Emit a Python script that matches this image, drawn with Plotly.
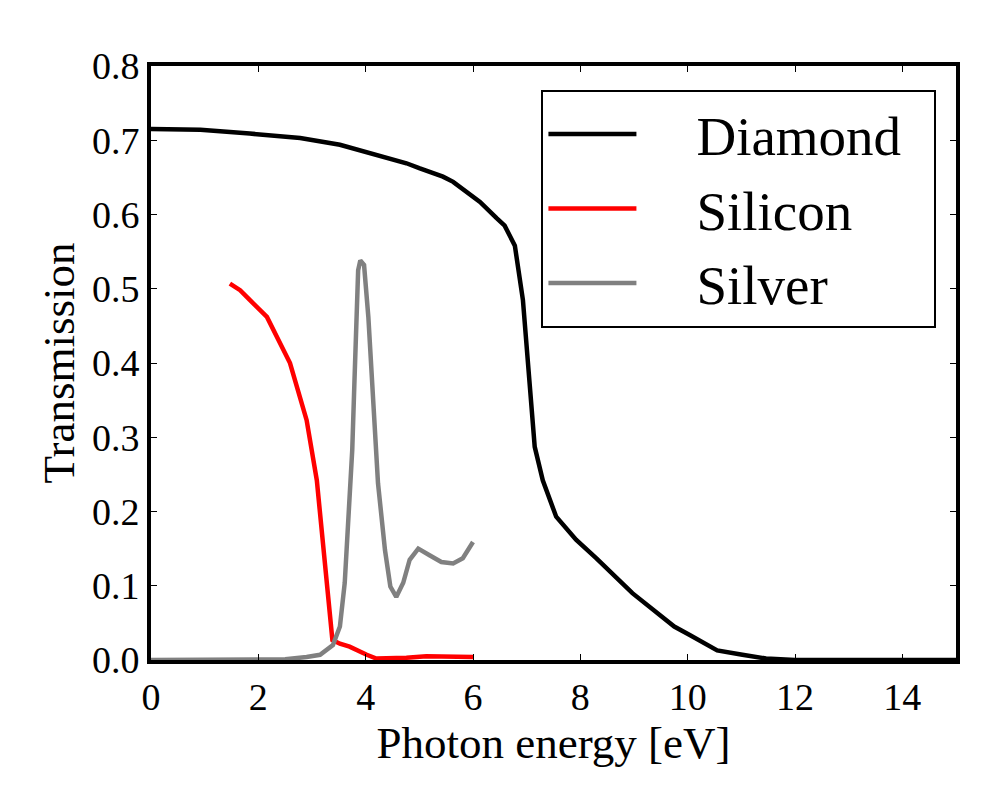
import plotly.graph_objects as go

# Diamond transmission
diamond_x = [0.0, 0.92, 1.84, 2.78, 3.52, 4.14, 4.76, 5.01, 5.44, 5.63, 6.13, 6.44, 6.59, 6.78, 6.93, 7.05, 7.15, 7.30,
             7.55, 7.92, 8.30, 8.97, 9.53, 9.75, 10.03, 10.55, 11.02, 11.46, 12.0, 13.0, 14.0, 15.0]
diamond_y = [0.715, 0.714, 0.709, 0.703, 0.694, 0.682, 0.669, 0.662, 0.651, 0.644, 0.617, 0.595, 0.585, 0.558, 0.485, 0.377,
             0.287, 0.242, 0.193, 0.162, 0.137, 0.090, 0.058, 0.045, 0.034, 0.013, 0.007, 0.002, 0.0, 0.0, 0.0, 0.0]

# Silicon transmission
silicon_x = [1.47, 1.66, 1.84, 2.16, 2.59, 2.90, 3.09, 3.18, 3.30, 3.38, 3.52, 3.70, 4.02, 4.20, 4.76, 5.13, 6.0]
silicon_y = [0.507, 0.498, 0.485, 0.462, 0.400, 0.323, 0.242, 0.175, 0.085, 0.027, 0.022, 0.018, 0.007, 0.002, 0.003,
             0.005, 0.004]

# Silver transmission
silver_x = [0.0, 1.5, 2.5, 2.9, 3.15, 3.39, 3.52, 3.61, 3.69, 3.75, 3.79, 3.83, 3.86, 3.90, 3.97, 4.05, 4.14, 4.23, 4.36,
            4.46, 4.57, 4.70, 4.82, 4.98, 5.19, 5.41, 5.63, 5.81, 6.0]
silver_y = [0.0, 0.0, 0.001, 0.004, 0.007, 0.020, 0.045, 0.104, 0.193, 0.283, 0.373, 0.462, 0.525, 0.538, 0.532, 0.462,
            0.350, 0.238, 0.148, 0.099, 0.085, 0.104, 0.135, 0.150, 0.141, 0.132, 0.130, 0.137, 0.159]

x_ticks = [0, 2, 4, 6, 8, 10, 12, 14]
y_ticks = [0.0, 0.1, 0.2, 0.3, 0.4, 0.5, 0.6, 0.7, 0.8]
y_ticklabels = [f"{v:.1f}" for v in y_ticks]

FONT = "Liberation Serif, DejaVu Serif, serif"
PAD = "\u00a0" * 4
TAIL = "\u00a0" * 2

fig = go.Figure()
fig.add_trace(go.Scatter(x=diamond_x, y=diamond_y, mode="lines", name=PAD + "Diamond" + TAIL,
                         line=dict(color="black", width=4.5), legendgroup="d"))
fig.add_trace(go.Scatter(x=silicon_x, y=silicon_y, mode="lines", name=PAD + "Silicon",
                         line=dict(color="red", width=4.5), legendgroup="s"))
fig.add_trace(go.Scatter(x=silver_x, y=silver_y, mode="lines", name=PAD + "Silver",
                         line=dict(color="gray", width=4.5), legendgroup="a"))

axis_common = dict(showline=True, linecolor="black", linewidth=4, mirror="ticks",
                   ticks="inside", ticklen=6, tickwidth=1, tickcolor="black",
                   showgrid=False, zeroline=False,
                   tickfont=dict(family=FONT, size=38, color="black"))

fig.update_layout(
    width=1000, height=800,
    paper_bgcolor="white", plot_bgcolor="white",
    margin=dict(l=143, r=52, t=58, b=148),
    font=dict(family=FONT, color="black"),
    xaxis=dict(range=[0, 15], tickvals=x_ticks,
               title=dict(text="Photon energy [eV]", font=dict(family=FONT, size=45), standoff=0),
               **axis_common),
    yaxis=dict(range=[0, 0.8], tickvals=y_ticks, ticktext=y_ticklabels,
               title=dict(text="Transmission", font=dict(family=FONT, size=45), standoff=4),
               **axis_common),
    legend=dict(x=0.485, y=0.96, xanchor="left", yanchor="top",
                bordercolor="black", borderwidth=2, bgcolor="white",
                font=dict(family=FONT, size=55, color="black"),
                traceorder="grouped", tracegroupgap=0,
                itemwidth=88),
    showlegend=True,
)

fig.write_html("out.html")
